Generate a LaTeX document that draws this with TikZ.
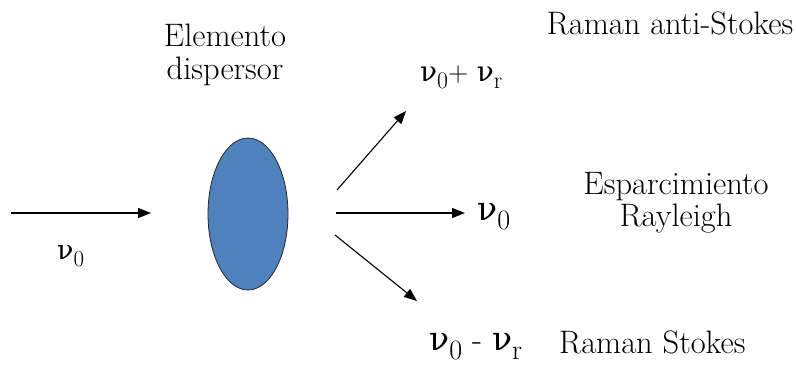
\documentclass[tikz,border=0pt]{standalone}
\usepackage{fontspec}
\usepackage{graphicx}
\newfontfamily\grk{DejaVu Serif}
\usetikzlibrary{arrows.meta,shapes.geometric}
\newcommand\nuch{{\grk ν}}
\newcommand\lsub[1]{\raisebox{-0.25em}{\scalebox{0.85}{#1}}}
\begin{document}
\begin{tikzpicture}[x=1pt,y=-1pt,
  txt/.style={inner sep=0pt,font=\fontsize{32.5}{33}\selectfont},
  nulab/.style={inner sep=0pt,font=\fontsize{#1}{#1}\selectfont},
  ray/.style={line width=1.1pt,-{Triangle[length=13pt,width=10pt]}}]
\useasboundingbox (0,0) rectangle (796,366);
\node[ellipse,draw=black!85,line width=0.8pt,fill={rgb,255:red,79;green,129;blue,189},
  minimum width=80pt,minimum height=152pt,inner sep=0pt] (disp) at (248,214) {};
% incoming beam
\coordinate (inA) at (11,213);
\coordinate (inB) at (151,213);
\draw[ray] (inA) -- (inB);
\node[nulab=27,anchor=base west] (nuin) at (57,260) {\nuch\lsub{0}};
% outgoing
\coordinate (upA) at (337,190);
\coordinate (upB) at (406,111);
\coordinate (midA) at (336,213);
\coordinate (midB) at (465,213);
\coordinate (loA) at (335,235);
\coordinate (loB) at (417,301);
\draw[ray] (upA) -- (upB);
\draw[ray] (midA) -- (midB);
\draw[ray] (loA) -- (loB);
\node[nulab=28,anchor=base west] (nuup) at (420,82) {\nuch\lsub{0}+ \nuch\lsub{r}};
\node[nulab=33,anchor=base west] (numid) at (477,221) {\nuch\lsub{0}};
\node[nulab=33,anchor=base west] (nulo) at (429,351) {\nuch\lsub{0} - \nuch\lsub{r}};
% texts
\node[txt,anchor=base] (el1) at (225,47) {Elemento};
\node[txt,anchor=base] (el2) at (225,80) {dispersor};
\node[txt,anchor=base] (ras) at (670,35) {Raman anti-Stokes};
\node[txt,anchor=base] (esp1) at (676,195) {Esparcimiento};
\node[txt,anchor=base] (esp2) at (676,227) {Rayleigh};
\node[txt,anchor=base west] (rs) at (559,353) {Raman Stokes};
\end{tikzpicture}
\end{document}
